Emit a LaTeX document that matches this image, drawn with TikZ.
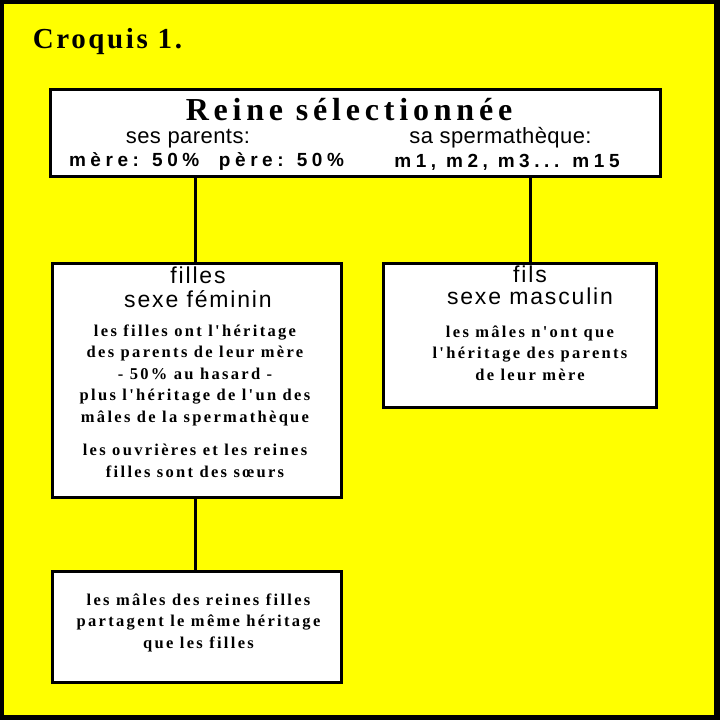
\documentclass[tikz,border=0pt]{standalone}
\usepackage{fontspec}
\setmainfont{Liberation Serif}
\setsansfont{Liberation Sans}
\newfontfamily\titlefont[LetterSpace=9]{Liberation Serif}
\newfontfamily\headfont[LetterSpace=15]{Liberation Serif}
\newfontfamily\bodyfont[LetterSpace=14]{Liberation Serif}
\newfontfamily\sansfont[LetterSpace=2]{Liberation Sans}
\newfontfamily\sexfont[LetterSpace=8]{Liberation Sans}
\newfontfamily\sansbold[LetterSpace=24]{Liberation Sans}
\definecolor{bgyellow}{RGB}{255,255,0}
\begin{document}
\begin{tikzpicture}[x=1pt,y=-1pt,
  box/.style={draw=black, line width=3pt, fill=white, minimum width=#1, inner sep=0pt},
  txt/.style={inner sep=0pt, anchor=base, text=black},
  body/.style={txt, align=center, font=\bodyfont\bfseries\fontsize{16.5}{21.5}\selectfont},
  link/.style={draw=black, line width=3pt}]
\useasboundingbox (0,0) rectangle (720,720);
\fill[black] (0,0) rectangle (720,720);
\fill[bgyellow] (4,3.5) rectangle (714,715);
% boxes
\node[box=610pt, minimum height=87pt] (top) at (355.5,133) {};
\node[box=289pt, minimum height=234pt] (filles) at (197,380.5) {};
\node[box=273pt, minimum height=144pt] (fils) at (520,335.5) {};
\node[box=289pt, minimum height=111pt] (bas) at (197,627) {};
% connectors
\draw[link] ([xshift=-1.5pt]filles.north) -- ([xshift=-1.5pt]filles.north |- top.south);
\draw[link] ([xshift=10pt]fils.north) -- ([xshift=10pt]fils.north |- top.south);
\draw[link] ([xshift=-1.5pt]filles.south) -- ([xshift=-1.5pt]filles.south |- bas.north);
% texts
\node[txt, font=\titlefont\bfseries\fontsize{29}{34}\selectfont] (titre) at (107.5,48) {Croquis 1.};
\node[txt, font=\headfont\bfseries\fontsize{32}{36}\selectfont] (reine) at (349,120) {Reine sélectionnée};
\node[txt, font=\sansfont\fontsize{22}{26}\selectfont] (parents) at (188,143) {ses parents:};
\node[txt, font=\sansfont\fontsize{22}{26}\selectfont] (sperm) at (500.5,143) {sa spermathèque:};
\node[txt, font=\sansbold\bfseries\fontsize{19}{22}\selectfont] (merepere) at (206.5,166) {mère: 50\%\ \ père: 50\%};
\node[txt, font=\sansbold\bfseries\fontsize{19}{22}\selectfont] (males) at (507,167) {m1, m2, m3... m15};
\node[txt, font=\sexfont\fontsize{23}{24}\selectfont, align=center] (fillestitre) at (198,307) {filles\\sexe féminin};
\node[txt, font=\sexfont\fontsize{23}{22}\selectfont, align=center] (filstitre) at (530,304) {fils\\sexe masculin};
\node[body] (fillestxt) at (195,422) {les filles ont l'héritage\\des parents de leur mère\\- 50\% au hasard -\\plus l'héritage de l'un des\\mâles de la spermathèque};
\node[body] (soeurs) at (195,477) {les ouvrières et les reines\\filles sont des sœurs};
\node[body] (filstxt) at (530,380) {les mâles n'ont que\\l'héritage des parents\\de leur mère};
\node[body] (bastxt) at (198.5,648) {les mâles des reines filles\\partagent le même héritage\\que les filles};
\end{tikzpicture}
\end{document}
